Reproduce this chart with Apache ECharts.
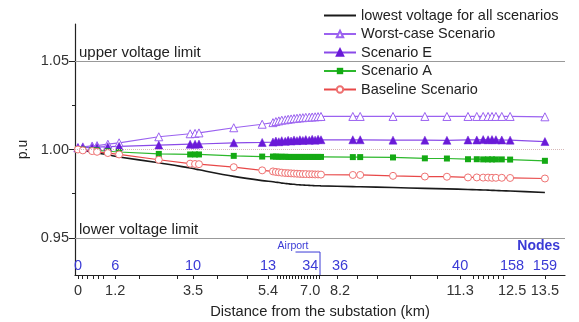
<!DOCTYPE html>
<html>
<head>
<meta charset="utf-8">
<script src="https://cdn.jsdelivr.net/npm/echarts@6/dist/echarts.min.js"></script>
<style>
  html, body { margin: 0; padding: 0; background: #fff; }
  #chart { width: 579px; height: 322px; }
</style>
</head>
<body>
<div id="chart"></div>
<script>
// the distance axis of the figure is not linear, so x is kept in plot units (0-100 across the axis)
const nodePos = [0.6, 1.6, 3.5, 4.5, 6.7, 9.0, 17.1, 23.5, 24.5, 25.3, 32.4, 38.2,
  40.4, 41.0, 41.6, 42.2, 42.9, 43.5, 44.1, 44.7, 45.3, 45.9, 46.5, 47.1, 47.8, 48.4, 49.0, 49.6, 50.2,
  56.7, 58.2, 64.9, 71.4, 75.9, 80.2, 82.0, 83.3, 84.3, 85.1, 85.9, 87.1, 88.8, 95.9];

const lowestV = [1.0000, 0.9995, 0.9985, 0.9980, 0.9970, 0.9958, 0.9925, 0.9895, 0.9890, 0.9885, 0.9848, 0.9824,
  0.9818, 0.9815, 0.9813, 0.9810, 0.9808, 0.9806, 0.9804, 0.9803, 0.9801, 0.9800, 0.9799, 0.9798, 0.9797, 0.9796, 0.9795, 0.9795, 0.9794,
  0.9790, 0.9789, 0.9785, 0.9780, 0.9777, 0.9774, 0.9772, 0.9771, 0.9770, 0.9769, 0.9768, 0.9767, 0.9765, 0.9757];

const worstV = [1.0012, 1.0015, 1.0020, 1.0022, 1.0030, 1.0038, 1.0072, 1.0089, 1.0091, 1.0094, 1.0123, 1.0143,
  1.0152, 1.0158, 1.0162, 1.0166, 1.0168, 1.0171, 1.0173, 1.0175, 1.0177, 1.0179, 1.0180, 1.0182, 1.0183, 1.0184, 1.0185, 1.0186, 1.0187,
  1.0187, 1.0187, 1.0187, 1.0187, 1.0187, 1.0187, 1.0187, 1.0187, 1.0187, 1.0187, 1.0187, 1.0187, 1.0187, 1.0185];

const scenE = [1.0008, 1.0010, 1.0012, 1.0013, 1.0016, 1.0018, 1.0025, 1.0030, 1.0030, 1.0031, 1.0038, 1.0040,
  1.0042, 1.0048, 1.0044, 1.0050, 1.0046, 1.0052, 1.0048, 1.0054, 1.0050, 1.0055, 1.0051, 1.0056, 1.0052, 1.0058, 1.0053, 1.0058, 1.0055,
  1.0055, 1.0055, 1.0053, 1.0053, 1.0052, 1.0054, 1.0054, 1.0056, 1.0055, 1.0056, 1.0055, 1.0054, 1.0053, 1.0045];

const scenA = [1.0000, 0.9999, 0.9996, 0.9995, 0.9990, 0.9986, 0.9975, 0.9972, 0.9972, 0.9972, 0.9964, 0.9960,
  0.9960, 0.9960, 0.9959, 0.9959, 0.9959, 0.9958, 0.9958, 0.9958, 0.9958, 0.9958, 0.9958, 0.9958, 0.9958, 0.9958, 0.9958, 0.9958, 0.9958,
  0.9957, 0.9957, 0.9955, 0.9950, 0.9949, 0.9945, 0.9945, 0.9944, 0.9944, 0.9944, 0.9944, 0.9944, 0.9943, 0.9936];

const baseV = [1.0000, 0.9995, 0.9991, 0.9987, 0.9980, 0.9972, 0.9942, 0.9920, 0.9918, 0.9917, 0.9900, 0.9882,
  0.9876, 0.9873, 0.9871, 0.9869, 0.9867, 0.9866, 0.9865, 0.9864, 0.9863, 0.9862, 0.9861, 0.9861, 0.9860, 0.9860, 0.9859, 0.9859, 0.9858,
  0.9856, 0.9856, 0.9851, 0.9847, 0.9846, 0.9842, 0.9842, 0.9841, 0.9841, 0.9840, 0.9840, 0.9840, 0.9839, 0.9836];

// tick labels: distance (km) under the axis, node numbers above it
const labelPos = [0.6, 8.2, 24.1, 39.4, 48.0, 54.1, 78.6, 89.2, 95.9];
const distLabels = ['0', '1.2', '3.5', '5.4', '7.0', '8.2', '11.3', '12.5', '13.5'];
const nodeLabels = ['0', '6', '10', '13', '34', '36', '40', '158', '159'];
const tickPos = [0.6, 1.4, 2.4, 3.7, 4.7, 5.7, 8.2, 13.1, 20.8, 24.1, 29.0, 35.1, 39.4,
  41.2, 41.8, 42.4, 43.1, 43.7, 44.3, 44.9, 45.5, 46.1, 46.7, 47.3, 48.0, 48.6, 49.2, 49.8,
  53.5, 57.6, 61.6, 68.4, 73.9, 78.6, 81.2, 82.2, 83.3, 84.3, 85.3, 86.3, 87.3, 95.9];

const yMajor = [0.95, 1.00, 1.05];
const yMinor = [0.975, 1.025];
const yMin = 0.929, yMax = 1.071;

const FONT = 'Liberation Sans, Arial, sans-serif';
const BLUE = '#3a3ad6';

function pairs(vals) {
  return nodePos.map((x, i) => [x, vals[i]]);
}
function labelAt(list, v) {
  let best = 0;
  labelPos.forEach((p, i) => { if (Math.abs(p - v) < Math.abs(labelPos[best] - v)) best = i; });
  return list[best];
}

const chart = echarts.init(document.getElementById('chart'));

chart.setOption({
  animation: false,
  textStyle: { fontFamily: FONT },
  grid: [
    { left: 75, top: 24, width: 490, bottom: 47, outerBoundsMode: 'none' },
    { left: 75, top: 24, width: 490, bottom: 47, outerBoundsMode: 'none' }
  ],
  legend: {
    orient: 'vertical',
    left: 323,
    top: 8,
    padding: 0,
    itemWidth: 32,
    itemHeight: 8,
    itemGap: 3.5,
    textStyle: { fontSize: 14.5, color: '#222', lineHeight: 15, fontFamily: FONT },
    data: [
      { name: 'lowest voltage for all scenarios', itemStyle: { color: 'rgba(0,0,0,0)', borderWidth: 0 } },
      'Worst-case Scenario', 'Scenario E', 'Scenario A', 'Baseline Scenario'
    ]
  },
  xAxis: [
    {
      type: 'value', gridIndex: 0, min: 0, max: 100,
      name: 'Distance from the substation (km)',
      nameLocation: 'middle', nameGap: 29,
      nameTextStyle: { fontSize: 14.7, color: '#222', fontFamily: FONT },
      axisLine: { lineStyle: { color: '#222', width: 1.2 } },
      axisTick: { customValues: tickPos, length: 4, lineStyle: { color: '#222' } },
      axisLabel: {
        customValues: labelPos, margin: 8, fontSize: 14.5, color: '#333', fontFamily: FONT,
        formatter: v => labelAt(distLabels, v)
      },
      splitLine: { show: false }
    },
    {
      type: 'value', gridIndex: 1, min: 0, max: 100, position: 'bottom',
      axisLine: { show: false },
      axisTick: { show: false },
      axisLabel: {
        inside: true, customValues: labelPos, margin: 2, fontSize: 14.5, color: BLUE, fontFamily: FONT,
        formatter: v => labelAt(nodeLabels, v)
      },
      splitLine: { show: false }
    }
  ],
  yAxis: [
    {
      type: 'value', gridIndex: 0, min: yMin, max: yMax,
      name: 'p.u', nameLocation: 'middle', nameGap: 40, nameRotate: 90,
      nameTextStyle: { fontSize: 14, color: '#222', fontFamily: FONT },
      axisLine: { show: true, lineStyle: { color: '#222', width: 1.2 } },
      axisTick: { show: true, customValues: yMajor, length: 6, lineStyle: { color: '#222' } },
      axisLabel: {
        customValues: yMajor, margin: 6, fontSize: 14.5, color: '#333', fontFamily: FONT,
        formatter: v => v.toFixed(2)
      },
      splitLine: { show: false }
    },
    {
      type: 'value', gridIndex: 1, min: yMin, max: yMax, position: 'left',
      axisLine: { show: false },
      axisTick: { show: true, customValues: yMinor, length: 3, lineStyle: { color: '#222' } },
      axisLabel: { show: false },
      splitLine: { show: false }
    }
  ],
  series: [
    {
      name: 'lowest voltage for all scenarios', type: 'line', smooth: 0.3,
      data: pairs(lowestV), symbol: 'none',
      lineStyle: { color: '#1a1a1a', width: 1.6 }, itemStyle: { color: '#1a1a1a' },
      markLine: {
        silent: true, symbol: ['none', 'none'],
        data: [
          { yAxis: 1.05, lineStyle: { color: '#999', width: 1, type: 'solid' },
            label: { show: true, position: 'insideStartTop', formatter: 'upper voltage limit', distance: [4, 1], fontSize: 15, color: '#222', fontFamily: FONT } },
          { yAxis: 0.95, lineStyle: { color: '#999', width: 1, type: 'solid' },
            label: { show: true, position: 'insideStartTop', formatter: 'lower voltage limit', distance: [4, 1], fontSize: 15, color: '#222', fontFamily: FONT } },
          { yAxis: 1.00, lineStyle: { color: '#d6b8b8', width: 1, type: 'dotted' }, label: { show: false } }
        ]
      }
    },
    {
      name: 'Worst-case Scenario', type: 'line', data: pairs(worstV),
      symbol: 'triangle', symbolSize: 8,
      lineStyle: { color: '#9b62f0', width: 1.2 },
      itemStyle: { color: '#fff', borderColor: '#9b62f0', borderWidth: 1 }
    },
    {
      name: 'Scenario E', type: 'line', data: pairs(scenE),
      symbol: 'triangle', symbolSize: 8,
      lineStyle: { color: '#8a4ae8', width: 1.2 },
      itemStyle: { color: '#6a1ad8', borderColor: '#6a1ad8', borderWidth: 0.5 }
    },
    {
      name: 'Scenario A', type: 'line', data: pairs(scenA),
      symbol: 'rect', symbolSize: 6,
      lineStyle: { color: '#2cb82c', width: 1.2 },
      itemStyle: { color: '#14aa14' }
    },
    {
      name: 'Baseline Scenario', type: 'line', data: pairs(baseV),
      symbol: 'circle', symbolSize: 7,
      lineStyle: { color: '#e84848', width: 1.2 },
      itemStyle: { color: '#fff', borderColor: '#ee7070', borderWidth: 1 }
    }
  ]
});

// annotations placed through the axis scales
const px = (x, y) => chart.convertToPixel({ gridIndex: 0 }, [x, y]);
const aText = px(44.5, 0.9455);
const b0 = px(45.0, 0.942), b1 = px(50.0, 0.942), b2 = px(50.0, yMin);
const nText = px(99.0, 0.9455);

chart.setOption({
  graphic: [
    { type: 'text', x: aText[0], y: aText[1],
      style: { text: 'Airport', fill: BLUE, fontSize: 10.5, fontFamily: FONT, align: 'center', verticalAlign: 'middle' } },
    { type: 'polyline', shape: { points: [b0, b1, b2] },
      style: { stroke: BLUE, lineWidth: 1, fill: null } },
    { type: 'text', x: nText[0], y: nText[1],
      style: { text: 'Nodes', fill: BLUE, fontSize: 14, fontWeight: 'bold', fontFamily: FONT, align: 'right', verticalAlign: 'middle' } }
  ]
});
</script>
</body>
</html>
